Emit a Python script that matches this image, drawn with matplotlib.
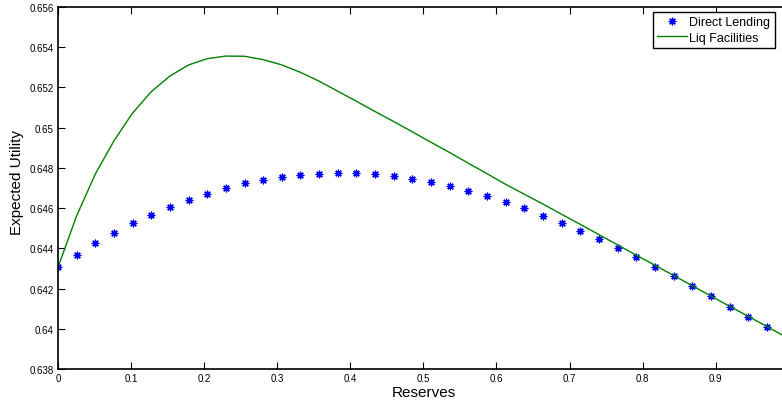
import numpy as np
import matplotlib
matplotlib.use('Agg')
import matplotlib.pyplot as plt
from matplotlib.ticker import FuncFormatter

plt.rcParams['font.family'] = ['Liberation Sans', 'DejaVu Sans']

# reserve grid shared by both series
reserves = [0.0, 0.0255, 0.0511, 0.0766, 0.1021, 0.1276, 0.1532, 0.1787,
            0.2042, 0.2297, 0.2553, 0.2808, 0.3063, 0.3318, 0.3574, 0.3829,
            0.4084, 0.4339, 0.4595, 0.4850, 0.5105, 0.5360, 0.5616, 0.5871,
            0.6126, 0.6381, 0.6637, 0.6892, 0.7147, 0.7402, 0.7658, 0.7913,
            0.8168, 0.8423, 0.8679, 0.8934, 0.9189, 0.9444, 0.9700]
reserves_line = reserves + [0.9955]

direct_lending = [0.64306, 0.64367, 0.64425, 0.64476, 0.64524, 0.64567, 0.64607,
                  0.64642, 0.64672, 0.64700, 0.64723, 0.64740, 0.64756, 0.64766,
                  0.64771, 0.64773, 0.64773, 0.64768, 0.64758, 0.64745, 0.64728,
                  0.64710, 0.64685, 0.64660, 0.64630, 0.64599, 0.64562, 0.64526,
                  0.64488, 0.64446, 0.64402, 0.64357, 0.64309, 0.64261, 0.64213,
                  0.64163, 0.64110, 0.64060, 0.64007]

liq_facilities = [0.64306, 0.64562, 0.64770, 0.64935, 0.65073, 0.65179, 0.65257,
                  0.65312, 0.65343, 0.65356, 0.65355, 0.65338, 0.65312, 0.65275,
                  0.65231, 0.65181, 0.65131, 0.65080, 0.65030, 0.64979, 0.64927,
                  0.64876, 0.64823, 0.64771, 0.64718, 0.64669, 0.64620, 0.64569,
                  0.64519, 0.64468, 0.64417, 0.64366, 0.64316, 0.64265, 0.64214,
                  0.64163, 0.64112, 0.64062, 0.64011, 0.63960]

xticks = [0, 0.1, 0.2, 0.3, 0.4, 0.5, 0.6, 0.7, 0.8, 0.9]
yticks = [0.638, 0.640, 0.642, 0.644, 0.646, 0.648, 0.650, 0.652, 0.654, 0.656]

fig = plt.figure(figsize=(7.82, 4.06), dpi=100)
# axes run a little past the right edge of the figure
ax = fig.add_axes([0.0742, 0.0887, 0.9345, 0.8916])

ax.plot(reserves, direct_lending, linestyle='none', marker=(8, 2, 0),
        markersize=5.5, markeredgewidth=0.9, color='#0000ff', label='Direct Lending')
ax.plot(reserves_line, liq_facilities, color='#008000', linewidth=1.0,
        label='Liq Facilities')

ax.set_xlim(0, 1)
ax.set_ylim(0.638, 0.656)
ax.set_xticks(xticks)
ax.set_yticks(yticks)
fmt = FuncFormatter(lambda v, p: '%g' % round(v, 3))
ax.xaxis.set_major_formatter(fmt)
ax.yaxis.set_major_formatter(fmt)

ax.tick_params(direction='in', length=5, width=0.8, labelsize=7, pad=3,
               top=True, right=True, colors='black')
for s in ax.spines.values():
    s.set_linewidth(1.2)

ax.set_xlabel('Reserves', fontsize=11, labelpad=1)
ax.set_ylabel('Expected Utility', fontsize=11)
ax.yaxis.set_label_coords(-0.0465, 0.519)

leg = ax.legend(loc='upper left', bbox_to_anchor=(0.814, 0.987), borderaxespad=0,
                fontsize=9, numpoints=1, handlelength=2.4, handletextpad=0.15,
                labelspacing=0.3, borderpad=0.35, fancybox=False, framealpha=1)
leg.get_frame().set_edgecolor('black')
leg.get_frame().set_linewidth(1.0)

fig.savefig('out.png', dpi=100)
